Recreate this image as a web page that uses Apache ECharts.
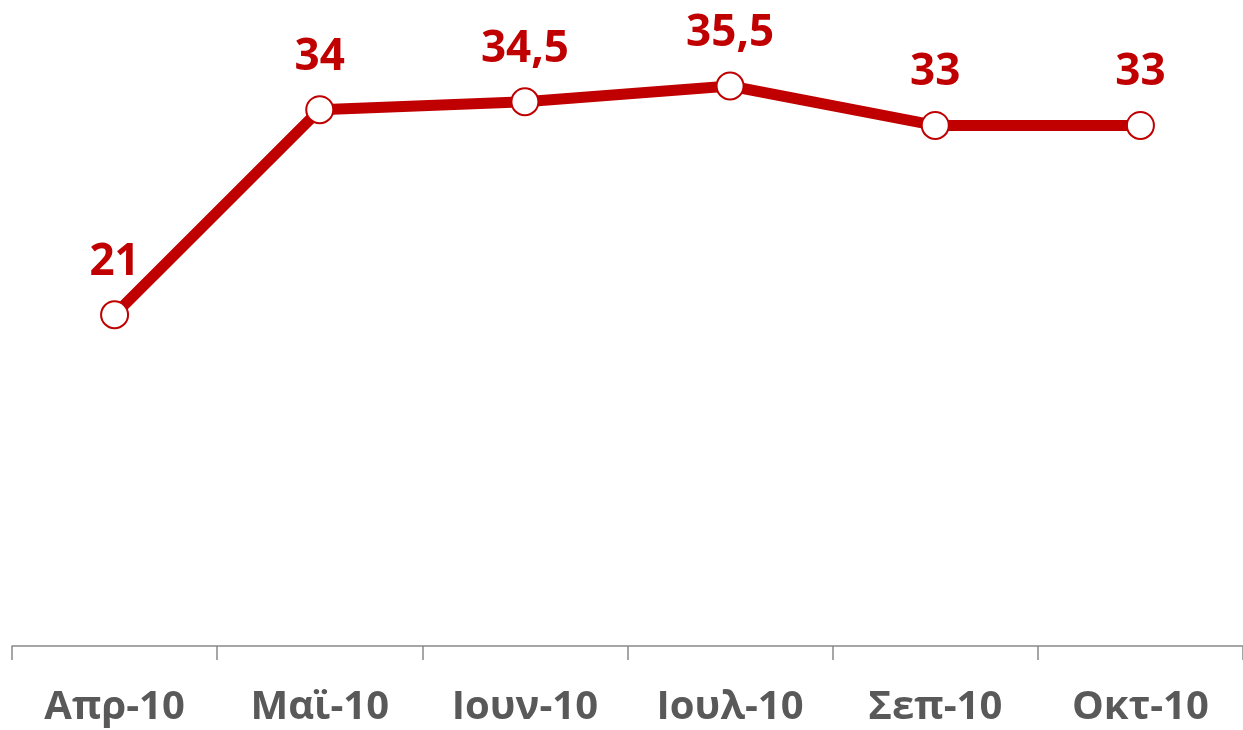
<!DOCTYPE html>
<html>
<head>
<meta charset="utf-8">
<script src="https://cdn.jsdelivr.net/npm/echarts@6/dist/echarts.min.js"></script>
<style>
  html, body { margin: 0; padding: 0; background: #fff; }
  #main { width: 1243px; height: 730px; }
</style>
</head>
<body>
<div id="main"></div>
<script>
const months = ["Απρ-10", "Μαϊ-10", "Ιουν-10", "Ιουλ-10", "Σεπ-10", "Οκτ-10"];
const values = [21, 34, 34.5, 35.5, 33, 33];

const myChart = echarts.init(document.getElementById("main"));
const option = {
  animation: false,
  grid: { left: 12, right: 0, top: 15, bottom: 84 },
  xAxis: {
    type: "category",
    data: months,
    boundaryGap: true,
    axisLine: { show: true, lineStyle: { color: "#898989", width: 1.5 } },
    axisTick: { show: true, length: 14, lineStyle: { color: "#898989", width: 1.5 } },
    axisLabel: {
      color: "#595959",
      fontFamily: "Open Sans",
      fontWeight: "bold",
      fontSize: 40,
      margin: 42
    }
  },
  yAxis: {
    type: "value",
    min: 0,
    max: 40,
    show: false
  },
  series: [
    {
      type: "line",
      data: values,
      symbol: "circle",
      symbolSize: 27,
      lineStyle: { color: "#c00000", width: 11 },
      itemStyle: { color: "#fff", borderColor: "#c00000", borderWidth: 2 },
      label: {
        show: true,
        position: "top",
        distance: 16,
        color: "#c00000",
        fontFamily: "Open Sans",
        fontWeight: "bold",
        fontSize: 44,
        formatter: (p) => String(p.value).replace(".", ",")
      }
    }
  ]
};
myChart.setOption(option);
</script>
</body>
</html>
